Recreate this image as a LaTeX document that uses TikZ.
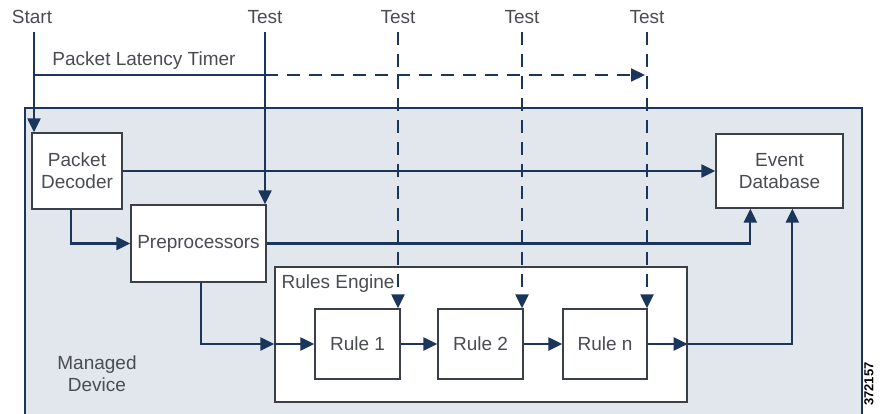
\documentclass[tikz,border=0pt]{standalone}
\usepackage{fontspec}
\setmainfont{Liberation Sans}
\usetikzlibrary{arrows.meta,calc}
\definecolor{navy}{HTML}{1B365D}
\definecolor{boxline}{HTML}{3A3F4A}
\definecolor{devfill}{HTML}{E2E7ED}
\definecolor{txt}{HTML}{4A4C52}
\begin{document}
\begin{tikzpicture}[x=1pt,y=-1pt,
  every node/.style={font=\fontsize{19}{22}\selectfont, text=txt},
  blk/.style={draw=boxline, line width=1.3pt, fill=white, align=center, inner sep=0pt},
  conn/.style={draw=navy, line width=2.2pt},
  tip/.style={-{Triangle[length=14pt,width=13pt]}},
  dsh/.style={dash pattern=on 13pt off 9pt}]
\useasboundingbox (0,0) rectangle (883,413);
% managed device
\draw[draw=navy, line width=2pt, fill=devfill] (25,108) rectangle (862,416);
\node[anchor=center, align=center] (md) at (97,374) {Managed\\Device};
% rules engine
\node[blk, minimum width=412pt, minimum height=135pt] (re) at (481,334.5) {};
\node[anchor=west] (relab) at (278,284) {Rules Engine};
% boxes
\node[blk, minimum width=90pt, minimum height=76pt] (dec) at (77,171) {Packet\\Decoder};
\node[blk, minimum width=135pt, minimum height=77pt] (pre) at (198.5,243.5) {Preprocessors};
\node[blk, minimum width=127pt, minimum height=74pt] (db) at (779.5,171) {Event\\Database};
\node[blk, minimum width=85pt, minimum height=70pt] (r1) at (357.5,344) {Rule 1};
\node[blk, minimum width=85pt, minimum height=70pt] (r2) at (480.5,344) {Rule 2};
\node[blk, minimum width=84pt, minimum height=70pt] (rn) at (605,344) {Rule n};
% labels at top
\node (start) at (32,17) {Start};
\node (t0) at (265,17) {Test};
\node (t1) at (398,17) {Test};
\node (t2) at (522,17) {Test};
\node (t3) at (647,17) {Test};
\node (plt) at (144,61) {Packet Latency Timer};
\node[rotate=90, text=black, font=\bfseries\fontsize{13}{15}\selectfont] (id) at (869,384) {372157};
% coordinates
\coordinate (s0) at (34,32);
\coordinate (ts) at (35,75);
\coordinate (tm) at (265,75);
\coordinate (te) at (645,75);
\coordinate (t0a) at (265,32);
\coordinate (t1a) at (398,32);
\coordinate (t2a) at (522,32);
\coordinate (t3a) at (647,32);
\coordinate (dbA) at ($(db.south west)+(35,0)$);
\coordinate (dbB) at ($(db.south west)+(77,0)$);
% start and timer
\draw[conn, tip] (s0) -- (s0 |- dec.north);
\draw[conn] (ts) -- (tm);
\draw[conn, dsh, tip] (tm) -- (te);
% tests
\draw[conn, tip] (t0a) -- (t0a |- pre.north);
\draw[conn, dsh, tip] (t1a) -- (t1a |- r1.north);
\draw[conn, dsh, tip] (t2a) -- (t2a |- r2.north);
\draw[conn, dsh, tip] (t3a) -- (t3a |- rn.north);
% flows
\draw[conn, tip] (dec.east) -- (db.west);
\draw[conn, tip] ($(dec.south west)+(40,0)$) |- (pre.west);
\draw[conn, tip] (pre.east) -| (dbA);
\draw[conn, tip] ($(pre.south west)+(71,0)$) |- (re.west |- r1.west);
\draw[conn, tip] (re.west |- r1.west) -- (r1.west);
\draw[conn, tip] (r1.east) -- (r2.west);
\draw[conn, tip] (r2.east) -- (rn.west);
\draw[conn, tip] (rn.east) -- (re.east |- rn.east);
\draw[conn, tip] (re.east |- rn.east) -| (dbB);
\end{tikzpicture}
\end{document}
